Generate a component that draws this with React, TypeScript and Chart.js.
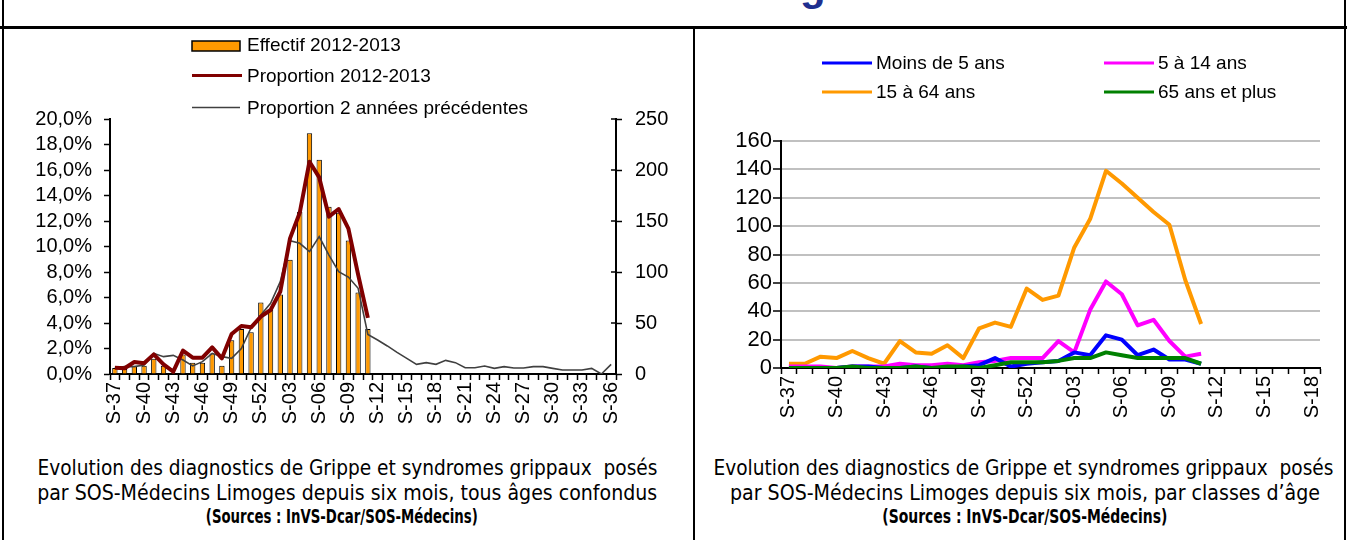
import React, { useEffect, useLayoutEffect, useRef } from "react";
import { Chart, registerables } from "chart.js";

Chart.register(...registerables);

// ---------- Data ----------
const weeksLeft = [
  "S-37", "S-38", "S-39", "S-40", "S-41", "S-42", "S-43", "S-44", "S-45", "S-46", "S-47", "S-48", "S-49", "S-50", "S-51", "S-52",
  "S-01", "S-02", "S-03", "S-04", "S-05", "S-06", "S-07", "S-08", "S-09", "S-10", "S-11", "S-12", "S-13", "S-14", "S-15", "S-16",
  "S-17", "S-18", "S-19", "S-20", "S-21", "S-22", "S-23", "S-24", "S-25", "S-26", "S-27", "S-28", "S-29", "S-30", "S-31", "S-32",
  "S-33", "S-34", "S-35", "S-36",
];
const effectif2012 = [6, 5, 8, 8, 15, 8, 1, 19, 11, 11, 20, 8, 33, 44, 41, 70, 63, 78, 112, 159, 236, 210, 164, 158, 131, 80, 44];
const proportion2012 = [0.49, 0.45, 0.94, 0.84, 1.54, 0.76, 0.18, 1.83, 1.28, 1.28, 2.09, 1.23, 3.14, 3.76, 3.66, 4.5, 5.02, 6.46, 10.64, 12.65, 16.65, 15.42, 12.34, 12.94, 11.4, 7.8, 4.4];
const proportionPrev = [
  0.49, 0.58, 0.58, 0.71, 1.62, 1.36, 1.46, 1.1, 0.63, 0.97,
  1.62, 1.36, 1.23, 2.0, 3.63, 4.63, 5.54, 7.24, 10.46, 10.25,
  9.6, 10.77, 9.33, 8.03, 7.6, 6.72, 3.1, 2.67, 2.2, 1.7,
  1.23, 0.76, 0.89, 0.76, 1.07, 0.89, 0.49, 0.49, 0.63, 0.44,
  0.58, 0.47, 0.47, 0.58, 0.58, 0.44, 0.31, 0.31, 0.31, 0.44,
  0.0, 0.76,
];

const weeksRight = [
  "S-37", "S-38", "S-39", "S-40", "S-41", "S-42", "S-43", "S-44", "S-45", "S-46", "S-47", "S-48", "S-49", "S-50", "S-51", "S-52",
  "S-01", "S-02", "S-03", "S-04", "S-05", "S-06", "S-07", "S-08", "S-09", "S-10", "S-11", "S-12", "S-13", "S-14", "S-15", "S-16",
  "S-17", "S-18",
];
const moins5 = [0, 0, 0, 0, 1, 1, 0, 0, 1, 0, 0, 1, 2, 7, 1, 3, 4, 5, 11, 9, 23, 20, 9, 13, 6, 6, 3];
const de5a14 = [1, 1, 1, 0, 1, 1, 1, 3, 2, 2, 3, 2, 4, 5, 7, 7, 7, 19, 11, 41, 61, 52, 30, 34, 19, 8, 10];
const de15a64 = [3, 3, 8, 7, 12, 7, 3, 19, 11, 10, 16, 7, 28, 32, 29, 56, 48, 51, 85, 105, 139, 130, 120, 110, 101, 62, 31];
const plus65 = [0, 0, 0, 0, 1, 0, 0, 0, 1, 0, 1, 1, 0, 2, 4, 4, 4, 5, 7, 7, 11, 9, 7, 7, 7, 7, 3];

const leftLegendLabels = ["Effectif 2012-2013", "Proportion 2012-2013", "Proportion 2 années précédentes"];
const rightLegendLabels = ["Moins de 5 ans", "5 à 14 ans", "15 à 64 ans", "65 ans et plus"];

const FONT = "'Liberation Sans', Arial, sans-serif";
const CAPTION_FONT = "'Liberation Sans Narrow', 'DejaVu Sans Condensed', 'Liberation Sans', sans-serif";

Chart.defaults.font.family = FONT;
Chart.defaults.color = "#000";

// ---------- Plugins ----------
const leftLegendPlugin = {
  id: "leftLegend",
  afterDraw(chart: any) {
    const ctx = chart.ctx;
    ctx.save();
    ctx.font = `19px ${FONT}`;
    ctx.textBaseline = "middle";
    ctx.textAlign = "left";
    // bar item
    ctx.fillStyle = "#FF9900";
    ctx.fillRect(192, 41, 48, 10);
    ctx.strokeStyle = "#000";
    ctx.lineWidth = 1.5;
    ctx.strokeRect(192, 41, 48, 10);
    ctx.fillStyle = "#000";
    ctx.fillText(leftLegendLabels[0], 247, 46);
    // red line
    ctx.strokeStyle = "#800000";
    ctx.lineWidth = 3;
    ctx.beginPath();
    ctx.moveTo(192, 75.5);
    ctx.lineTo(242, 75.5);
    ctx.stroke();
    ctx.fillText(leftLegendLabels[1], 247, 77);
    // grey line
    ctx.strokeStyle = "#404040";
    ctx.lineWidth = 1.7;
    ctx.beginPath();
    ctx.moveTo(192, 107.5);
    ctx.lineTo(240, 107.5);
    ctx.stroke();
    ctx.fillText(leftLegendLabels[2], 247, 109);

    // inner half of the right-axis ticks
    const s = chart.scales.y1;
    ctx.strokeStyle = "#000";
    ctx.lineWidth = 1.5;
    s.ticks.forEach((t: any) => {
      const y = s.getPixelForValue(t.value);
      ctx.beginPath();
      ctx.moveTo(chart.chartArea.right - 5, y);
      ctx.lineTo(chart.chartArea.right, y);
      ctx.stroke();
    });
    ctx.restore();
  },
};

const rightLegendPlugin = {
  id: "rightLegend",
  afterDraw(chart: any) {
    const ctx = chart.ctx;
    const spots = [
      { x: 127, y: 63 },
      { x: 409, y: 63 },
      { x: 127, y: 92 },
      { x: 409, y: 92 },
    ];
    ctx.save();
    ctx.font = `19px ${FONT}`;
    ctx.textBaseline = "middle";
    ctx.textAlign = "left";
    [0, 1, 2, 3].forEach((i) => {
      const ds = chart.data.datasets[i];
      const p = spots[i];
      ctx.strokeStyle = ds.borderColor;
      ctx.lineWidth = 3;
      ctx.beginPath();
      ctx.moveTo(p.x, p.y);
      ctx.lineTo(p.x + 50, p.y);
      ctx.stroke();
      ctx.fillStyle = "#000";
      ctx.fillText(rightLegendLabels[i], p.x + 54, p.y + 1);
    });
    ctx.restore();
  },
};

// ---------- Components ----------
function LeftChart() {
  const ref = useRef<HTMLCanvasElement>(null);
  useEffect(() => {
    if (!ref.current) return;
    const chart = new Chart(ref.current, {
      type: "bar",
      data: {
        labels: weeksLeft,
        datasets: [
          {
            type: "line",
            label: leftLegendLabels[1],
            data: proportion2012,
            yAxisID: "y",
            borderColor: "#800000",
            borderWidth: 4,
            pointRadius: 0,
            borderJoinStyle: "round",
            order: 1,
          } as any,
          {
            type: "line",
            label: leftLegendLabels[2],
            data: proportionPrev,
            yAxisID: "y",
            borderColor: "#404040",
            borderWidth: 1.6,
            pointRadius: 0,
            order: 2,
          } as any,
          {
            type: "bar",
            label: leftLegendLabels[0],
            data: effectif2012,
            yAxisID: "y1",
            backgroundColor: "#FF9900",
            borderColor: "#000",
            borderWidth: 1,
            barPercentage: 0.55,
            categoryPercentage: 1,
            order: 3,
          } as any,
        ],
      },
      options: {
        responsive: false,
        animation: false,
        layout: { padding: { top: 119, left: 0, right: 0, bottom: 0 } },
        plugins: { legend: { display: false }, tooltip: { enabled: false }, title: { display: false } },
        scales: {
          x: {
            offset: true,
            grid: { display: true, drawOnChartArea: false, drawTicks: true, tickLength: 6, tickColor: "#000", tickWidth: 1.5, offset: true },
            border: { display: true, color: "#000", width: 2 },
            ticks: {
              autoSkip: false,
              maxRotation: 90,
              minRotation: 90,
              padding: 2,
              font: { size: 20 },
              color: "#000",
              callback: (_v: any, i: number) => (i % 3 === 0 ? weeksLeft[i] : ""),
            },
            afterFit: (s: any) => {
              s.height = 66;
            },
          },
          y: {
            position: "left",
            min: 0,
            max: 20,
            ticks: {
              autoSkip: false,
              stepSize: 2,
              padding: 12,
              font: { size: 20 },
              color: "#000",
              callback: (v: any) => Number(v).toFixed(1).replace(".", ",") + "%",
            },
            grid: { drawOnChartArea: false, tickLength: 6, tickColor: "#000", tickWidth: 1.5 },
            border: { color: "#000", width: 2 },
            afterFit: (s: any) => {
              s.width = 110;
            },
          },
          y1: {
            position: "right",
            min: 0,
            max: 250,
            ticks: { autoSkip: false, stepSize: 50, padding: 13, font: { size: 20 }, color: "#000" },
            grid: { drawOnChartArea: false, tickLength: 6, tickColor: "#000", tickWidth: 1.5 },
            border: { color: "#000", width: 2 },
            afterFit: (s: any) => {
              s.width = 77;
            },
          },
        },
      } as any,
      plugins: [leftLegendPlugin],
    });
    return () => chart.destroy();
  }, []);
  return (
    <canvas
      ref={ref}
      width={693}
      height={440}
      style={{ position: "absolute", left: 0, top: 0, width: 693, height: 440 }}
    />
  );
}

function RightChart() {
  const ref = useRef<HTMLCanvasElement>(null);
  useEffect(() => {
    if (!ref.current) return;
    const mk = (label: string, data: number[], color: string, order: number) => ({
      label,
      data,
      borderColor: color,
      backgroundColor: color,
      borderWidth: 4,
      pointRadius: 0,
      borderJoinStyle: "round",
      fill: false,
      order,
    });
    const chart = new Chart(ref.current, {
      type: "line",
      data: {
        labels: weeksRight,
        datasets: [
          mk(rightLegendLabels[0], moins5, "#0000FF", 1),
          mk(rightLegendLabels[1], de5a14, "#FF00FF", 2),
          mk(rightLegendLabels[2], de15a64, "#FF9900", 3),
          mk(rightLegendLabels[3], plus65, "#008000", 0),
        ] as any,
      },
      options: {
        responsive: false,
        animation: false,
        layout: { padding: { top: 141, left: 0, right: 25, bottom: 0 } },
        plugins: { legend: { display: false }, tooltip: { enabled: false }, title: { display: false } },
        scales: {
          x: {
            offset: true,
            grid: { display: true, drawOnChartArea: false, drawTicks: true, tickLength: 6, tickColor: "#000", tickWidth: 1.5, offset: true },
            border: { display: true, color: "#000", width: 2 },
            ticks: {
              autoSkip: false,
              maxRotation: 90,
              minRotation: 90,
              padding: 2,
              font: { size: 20 },
              color: "#000",
              callback: (_v: any, i: number) => (i % 3 === 0 ? weeksRight[i] : ""),
            },
            afterFit: (s: any) => {
              s.height = 72;
            },
          },
          y: {
            min: 0,
            max: 160,
            ticks: { autoSkip: false, stepSize: 20, padding: 1, font: { size: 22 }, color: "#000" },
            grid: { color: "#C0C0C0", lineWidth: 2, tickColor: "#000", tickLength: 8, tickWidth: 1.5 },
            border: { color: "#000", width: 2 },
            afterFit: (s: any) => {
              s.width = 86;
            },
          },
        },
      } as any,
      plugins: [rightLegendPlugin],
    });
    return () => chart.destroy();
  }, []);
  return (
    <canvas
      ref={ref}
      width={650}
      height={440}
      style={{ position: "absolute", left: 695, top: 0, width: 650, height: 440 }}
    />
  );
}

function FitLine(props: { text: string; center: number; top: number; width: number; size: number; bold?: boolean }) {
  const ref = useRef<HTMLSpanElement>(null);
  useLayoutEffect(() => {
    const el = ref.current;
    if (!el) return;
    el.style.transform = "none";
    const w = el.getBoundingClientRect().width;
    if (w > 0) el.style.transform = `scaleX(${props.width / w})`;
  }, [props.text, props.width]);
  return (
    <div
      style={{
        position: "absolute",
        left: props.center - 400,
        width: 800,
        top: props.top,
        textAlign: "center",
        fontFamily: CAPTION_FONT,
        fontSize: props.size,
        fontWeight: props.bold ? 700 : 400,
        lineHeight: "24px",
        color: "#000",
        whiteSpace: "pre",
      }}
    >
      <span ref={ref} style={{ display: "inline-block", transformOrigin: "center", whiteSpace: "pre" }}>
        {props.text}
      </span>
    </div>
  );
}

const captionLeft1 = "Evolution des diagnostics de Grippe et syndromes grippaux  posés";
const captionLeft2 = "par SOS-Médecins Limoges depuis six mois, tous âges confondus";
const captionRight1 = "Evolution des diagnostics de Grippe et syndromes grippaux  posés";
const captionRight2 = "par SOS-Médecins Limoges depuis six mois, par classes d’âge";
const captionSource = "(Sources : InVS-Dcar/SOS-Médecins)";

const titleStyle: React.CSSProperties = {
  position: "absolute",
  top: -35,
  fontFamily: FONT,
  fontWeight: 700,
  fontSize: 42,
  lineHeight: "42px",
  color: "#1F2F8F",
  whiteSpace: "pre",
};

export default function App() {
  return (
    <div
      style={{
        position: "absolute",
        left: 0,
        top: 0,
        width: 1347,
        height: 540,
        overflow: "hidden",
        background: "#fff",
      }}
    >
      {/* cut-off page title: only the descender of the g shows */}
      <div style={{ ...titleStyle, right: 1347 - 800 }}>Données SOS-Médecins Limo</div>
      <div style={{ ...titleStyle, left: 800 }}>ges</div>

      {/* frame */}
      <div style={{ position: "absolute", left: 0, top: 26, width: 1347, height: 3, background: "#000" }} />
      <div style={{ position: "absolute", left: 2, top: 0, width: 2, height: 540, background: "#000" }} />
      <div style={{ position: "absolute", left: 1344, top: 0, width: 2, height: 540, background: "#000" }} />
      <div style={{ position: "absolute", left: 693, top: 28, width: 2, height: 512, background: "#000" }} />

      <LeftChart />
      <RightChart />

      <FitLine text={captionLeft1} center={347} top={456} width={620} size={22} />
      <FitLine text={captionLeft2} center={347} top={481} width={620} size={22} />
      <FitLine text={captionSource} center={342} top={504} width={272} size={19} bold />

      <FitLine text={captionRight1} center={1023} top={456} width={620} size={22} />
      <FitLine text={captionRight2} center={1025} top={481} width={590} size={22} />
      <FitLine text={captionSource} center={1025} top={504} width={285} size={19} bold />
    </div>
  );
}
